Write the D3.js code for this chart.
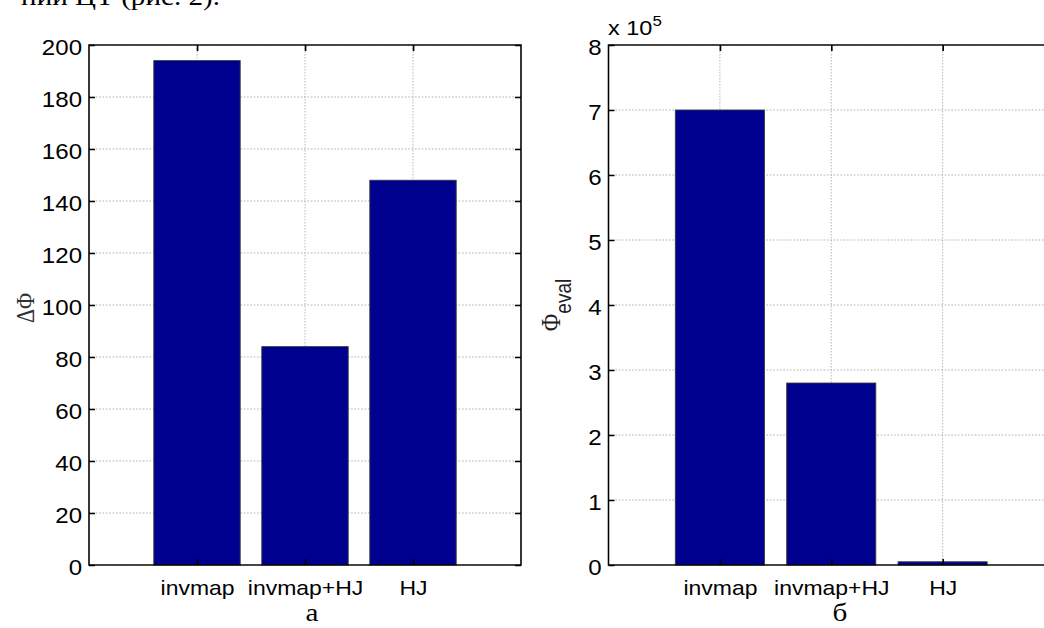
<!DOCTYPE html>
<html>
<head>
<meta charset="utf-8">
<script src="https://cdn.jsdelivr.net/npm/d3@7"></script>
<style>
  body { margin: 0; background: #fff; }
  svg { display: block; }
  .tick text { font-family: "Liberation Sans", Arial, sans-serif; fill: #000; }
</style>
</head>
<body>
<div id="chart"></div>
<script>
// Chart data
const categories = ['invmap', 'invmap+HJ', 'HJ'];
const deltaPhi = [194, 84, 148];
const phiEval = [7.0e5, 2.8e5, 0.05e5];
const deltaPhiTicks = [0, 20, 40, 60, 80, 100, 120, 140, 160, 180, 200];
const phiEvalTicks = [0, 1e5, 2e5, 3e5, 4e5, 5e5, 6e5, 7e5, 8e5];
const captions = ['а', 'б'];

// The source picture is stretched horizontally, so draw in a narrower space and scale
const SX = 1.12;
const width = 1044, height = 628;
const plotTop = 45, plotBottom = 565;

const svg = d3.select('#chart')
    .append('svg')
    .attr('width', width)
    .attr('height', height);

const root = svg.append('g').attr('transform', `scale(${SX},1)`);

// Cut-off line of text above the figure
root.append('text')
    .attr('x', 220 / SX)
    .attr('y', 5)
    .attr('text-anchor', 'end')
    .style('font-family', '"Liberation Serif", "Times New Roman", serif')
    .style('font-size', '26px')
    .text('нии ЦТ (рис. 2).');

function drawPanel(opts) {
    const g = root.append('g');
    const x = d3.scaleLinear().domain([0, 4]).range([opts.left / SX, opts.right / SX]);
    const y = d3.scaleLinear().domain([0, opts.max]).range([plotBottom, plotTop]);
    const x0 = x.range()[0], x1 = x.range()[1];

    // Dotted grid
    g.selectAll('.hgrid')
        .data(opts.ticks)
        .enter()
        .append('line')
        .attr('x1', x0).attr('x2', x1)
        .attr('y1', d => y(d)).attr('y2', d => y(d))
        .attr('stroke', '#b4b4b4')
        .attr('stroke-width', 1)
        .attr('stroke-dasharray', '1.5,1.5');
    g.selectAll('.vgrid')
        .data([1, 2, 3])
        .enter()
        .append('line')
        .attr('x1', d => x(d)).attr('x2', d => x(d))
        .attr('y1', plotTop).attr('y2', plotBottom)
        .attr('stroke', '#b4b4b4')
        .attr('stroke-width', 1 / SX)
        .attr('stroke-dasharray', '1.5,1.5');

    // Bars
    g.selectAll('.bar')
        .data(opts.values)
        .enter()
        .append('rect')
        .attr('x', (d, i) => x(i + 1 - 0.4))
        .attr('width', x(0.8) - x(0))
        .attr('y', d => y(d))
        .attr('height', d => y(0) - y(d))
        .attr('fill', '#00008f')
        .attr('stroke', '#3a3a3a')
        .attr('stroke-width', 0.8);

    // Axes with inward ticks
    const tk = 6;
    const yLeft = g.append('g')
        .attr('transform', `translate(${x0},0)`)
        .call(d3.axisLeft(y).tickValues(opts.ticks).tickFormat(opts.fmt)
            .tickSize(-tk / SX).tickPadding(7 / SX));
    yLeft.selectAll('text').style('font-size', '21.5px').attr('dy', '0.42em');

    g.append('g')
        .attr('transform', `translate(${x1},0)`)
        .call(d3.axisRight(y).tickValues(opts.ticks).tickFormat('').tickSize(-tk / SX));

    const xBottom = g.append('g')
        .attr('transform', `translate(0,${plotBottom})`)
        .call(d3.axisBottom(x).tickValues([1, 2, 3]).tickFormat(i => categories[i - 1])
            .tickSize(-tk).tickPadding(15));
    xBottom.selectAll('text').style('font-size', '20.5px');

    g.append('g')
        .attr('transform', `translate(0,${plotTop})`)
        .call(d3.axisTop(x).tickValues([1, 2, 3]).tickFormat('').tickSize(-tk));

    g.selectAll('.domain').remove();
    g.selectAll('.tick line').attr('stroke', '#000').attr('stroke-width', 1.5);

    // Box
    g.append('rect')
        .attr('x', x0).attr('y', plotTop)
        .attr('width', x1 - x0).attr('height', plotBottom - plotTop)
        .attr('fill', 'none')
        .attr('stroke', '#000')
        .attr('stroke-width', 1.4);

    // Caption under the panel
    g.append('text')
        .attr('x', opts.capX / SX)
        .attr('y', 621)
        .attr('text-anchor', 'middle')
        .style('font-family', '"Liberation Serif", "Times New Roman", serif')
        .style('font-size', '26px')
        .text(opts.caption);

    return g;
}

// Panel a
const ga = drawPanel({
    left: 89, right: 521, values: deltaPhi, max: 200,
    ticks: deltaPhiTicks, fmt: d => d, caption: captions[0], capX: 312
});
ga.append('text')
    .attr('transform', `translate(${34 / SX},308) rotate(-90)`)
    .attr('text-anchor', 'middle')
    .attr('fill', '#333')
    .style('font-family', '"Liberation Serif", "Times New Roman", serif')
    .style('font-size', '22px')
    .text('ΔΦ');

// Panel b
const gb = drawPanel({
    left: 608.5, right: 1054, values: phiEval, max: 8e5,
    ticks: phiEvalTicks, fmt: d => d / 1e5, caption: captions[1], capX: 840
});
const lbl = gb.append('text')
    .attr('transform', `translate(${560 / SX},305) rotate(-90)`)
    .attr('text-anchor', 'middle')
    .attr('fill', '#222');
lbl.append('tspan')
    .style('font-family', '"Liberation Serif", "Times New Roman", serif')
    .style('font-size', '24px')
    .text('Φ');
lbl.append('tspan')
    .attr('dy', 10)
    .style('font-family', '"Liberation Sans", Arial, sans-serif')
    .style('font-size', '19px')
    .text('eval');

// Exponent label
const ex = gb.append('text')
    .attr('x', 608 / SX)
    .attr('y', 35)
    .style('font-family', '"Liberation Sans", Arial, sans-serif')
    .style('font-size', '21px');
ex.append('tspan').text('x 10');
ex.append('tspan')
    .attr('dy', -9)
    .style('font-size', '15px')
    .text('5');
</script>
</body>
</html>
